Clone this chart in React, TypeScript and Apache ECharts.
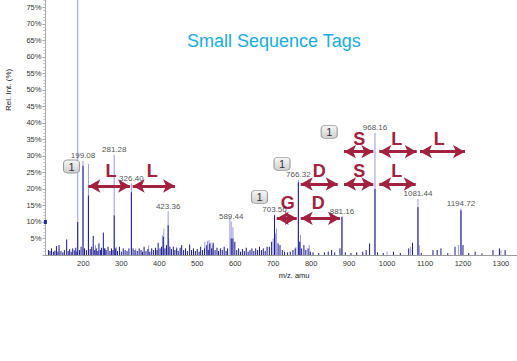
import React, { useEffect, useRef } from "react";
import * as echarts from "echarts";

// ---- labelled peaks ----
const peakMasses = [199.08, 281.28, 326.4, 423.36, 589.44, 703.56, 766.32, 881.16, 968.16, 1081.44, 1194.72];
const peakLabels = ["199.08", "281.28", "326.40", "423.36", "589.44", "703.56", "766.32", "881.16", "968.16", "1081.44", "1194.72"];
const peakIntensity = [28.5, 30.3, 21.7, 13.3, 10.1, 12.3, 22.8, 11.7, 37.0, 17.0, 14.0];
const peakDark = [27.0, 12.0, 19.0, 9.0, 5.0, 12.0, 22.0, 11.5, 20.0, 14.5, 13.5];

// ---- unlabelled main peaks ----
const extraMasses = [185.1, 213.3];
const extraIntensity = [100, 27.6];
const extraDark = [10, 18];

// ---- light (centroid) noise sticks ----
const lightMasses = [232, 258, 287, 338, 372, 408, 412, 425, 445, 520, 527, 531, 536, 541, 586, 594, 700, 706, 709, 760, 772, 795, 1000, 1062, 1085, 1188, 1300];
const lightIntensity = [3.0, 2.0, 2.5, 2.0, 3.0, 6.0, 8.0, 5.0, 2.5, 4.0, 4.3, 4.5, 3.8, 3.0, 11.5, 8.4, 5.0, 6.5, 8.0, 2.5, 6.0, 3.0, 1.0, 2.5, 3.0, 3.0, 1.5];

// ---- dark (profile) noise sticks ----
const noiseMasses = [108, 112, 116, 121, 125, 129, 133, 136, 141, 146, 150, 156, 160, 164, 168, 172, 176, 180, 183, 190, 194, 203, 208, 218, 222, 226, 230, 234, 238, 241, 245, 248, 252.6, 256, 260, 265, 270, 274, 278, 285, 290, 295, 300, 305, 310, 315, 320, 331, 336, 342, 347, 352, 356, 360, 365, 370, 375, 380, 385, 390, 394, 397, 402, 406, 410.6, 415, 419, 428, 432, 437, 441, 446, 450, 455, 459, 464, 469, 474, 480, 485, 490, 495, 500, 505, 509, 514, 519, 525, 529, 533, 538, 542, 547, 552, 556, 561, 566, 571, 576, 580, 594, 599, 604, 609, 614, 619, 624, 629, 634, 639, 644, 649, 654, 659, 664, 669, 674, 679, 684, 690, 696, 713, 718, 724, 730, 738, 745, 752, 758, 770, 775, 781, 786, 792, 798, 805, 820, 835, 845, 854, 862, 876, 890, 905, 920, 936, 945, 954, 975, 990, 1017, 1035, 1057, 1067, 1090, 1121, 1132, 1142, 1160, 1179, 1200, 1215, 1232, 1250, 1279, 1296, 1311];
const noiseIntensity = [1.5, 1.2, 2.0, 1.0, 1.3, 2.7, 1.0, 3.0, 1.2, 0.8, 1.5, 4.7, 1.2, 1.8, 1.0, 2.0, 1.4, 2.2, 1.0, 1.5, 2.5, 2.0, 1.5, 1.8, 2.5, 5.8, 1.5, 2.0, 1.2, 3.5, 1.5, 2.2, 6.8, 2.0, 1.5, 2.5, 1.2, 2.0, 1.5, 2.0, 1.2, 2.5, 1.0, 2.0, 1.5, 1.2, 2.0, 2.0, 1.5, 1.2, 2.0, 1.5, 1.0, 2.5, 1.2, 1.8, 1.0, 2.0, 1.5, 2.2, 1.5, 3.7, 2.0, 2.5, 5.5, 2.0, 3.0, 2.5, 1.8, 2.5, 1.5, 2.0, 1.2, 2.2, 3.0, 1.5, 2.0, 1.2, 3.2, 1.5, 2.0, 1.2, 1.8, 1.0, 2.5, 1.5, 2.0, 3.0, 1.5, 3.5, 2.0, 3.7, 1.5, 2.2, 1.2, 2.0, 1.5, 2.5, 1.2, 2.0, 5.0, 4.0, 1.5, 2.0, 1.0, 1.8, 1.2, 2.2, 1.0, 1.5, 2.0, 1.2, 2.0, 1.5, 2.5, 1.5, 2.0, 1.2, 2.5, 2.5, 4.0, 3.5, 3.0, 1.5, 1.0, 0.8, 1.0, 1.5, 2.0, 4.0, 2.0, 3.0, 1.5, 2.0, 1.0, 0.8, 0.6, 0.8, 1.0, 1.5, 0.8, 2.0, 0.8, 0.6, 0.8, 1.0, 1.5, 3.5, 0.8, 0.6, 1.0, 0.6, 2.0, 3.7, 0.6, 1.5, 1.5, 2.0, 0.6, 2.5, 3.0, 0.6, 1.0, 0.5, 1.5, 2.0, 1.5];

// ---- annotations (data units: m/z, %) ----
const tagBoxMass = [168.8, 723.3, 847.6, 664.0];
const tagBoxPct = [26.8, 27.6, 37.3, 17.6];
const tagBoxText = ["1", "1", "1", "1"];

const letters = ["L", "L", "G", "D", "D", "S", "L", "S", "L", "L"];
const letterMass = [272.8, 381.6, 738.3, 818.9, 821.5, 927.0, 1025.5, 927.0, 1025.5, 1137.7];
const letterPct = [25.4, 25.4, 15.8, 15.8, 25.4, 25.4, 25.4, 35.0, 35.0, 35.1];

const arrowStart = [213.3, 330.0, 709.4, 772.6, 772.6, 886.6, 979.6, 886.6, 979.6, 1086.8];
const arrowEnd = [322.8, 441.5, 762.0, 876.0, 870.0, 963.8, 1075.5, 963.8, 1078.2, 1205.3];
const arrowPct = [20.9, 20.9, 11.1, 11.1, 21.5, 21.5, 21.5, 31.3, 31.3, 31.3];

const FONT = "Liberation Sans, Arial, sans-serif";
const LIGHT = "#9a9ae0";
const DARK = "#161690";
const RED = "#a1213f";

function stickSeries(name: string, masses: number[], values: number[], color: string, z: number) {
  return {
    name,
    type: "custom",
    clip: true,
    z,
    silent: true,
    data: masses.map((m, i) => [m, values[i]]),
    renderItem: (_params: any, api: any) => {
      const x = api.value(0);
      const y = api.value(1);
      const p0 = api.coord([x, 0]);
      const p1 = api.coord([x, y]);
      return {
        type: "line",
        shape: { x1: p0[0], y1: p0[1], x2: p1[0], y2: p1[1] },
        style: { stroke: color, lineWidth: 1 },
      };
    },
  };
}

export default function App() {
  const ref = useRef<HTMLDivElement>(null);
  useEffect(() => {
    if (!ref.current) return;
    const chart = echarts.init(ref.current, undefined, { renderer: "svg" });
    const option: any = {
      animation: false,
      backgroundColor: "#ffffff",
      title: {
        text: "Small Sequence Tags",
        left: 187,
        top: 32,
        padding: 0,
        textStyle: { color: "#17ace0", fontSize: 18, fontWeight: "normal", fontFamily: FONT },
      },
      grid: { left: 45.4, top: -75.2, width: 497.3, height: 330.2, containLabel: false, outerBoundsMode: "none" },
      xAxis: {
        type: "value",
        min: 100,
        max: 1410,
        interval: 100,
        name: "m/z. amu",
        nameLocation: "middle",
        nameGap: 13,
        nameTextStyle: { fontSize: 7.5, color: "#222", fontFamily: FONT },
        axisLine: { show: true, lineStyle: { color: "#9a9a9a" } },
        axisTick: { show: false },
        splitLine: { show: false },
        axisLabel: {
          fontSize: 7.5,
          color: "#333",
          fontFamily: FONT,
          margin: 4,
          showMinLabel: false,
          showMaxLabel: false,
          formatter: (v: number) => (v > 1300 ? "" : String(v)),
        },
      },
      yAxis: {
        type: "value",
        min: 0,
        max: 100,
        interval: 5,
        name: "Rel. Int. (%)",
        nameLocation: "middle",
        nameRotate: 90,
        nameGap: 33,
        nameTextStyle: { fontSize: 8, color: "#222", fontFamily: FONT },
        axisLine: { show: true, lineStyle: { color: "#a8a8a8" } },
        axisTick: { show: true, length: 3, lineStyle: { color: "#a8a8a8" } },
        minorTick: { show: true, splitNumber: 5, length: 2, lineStyle: { color: "#c0c0c0" } },
        splitLine: { show: false },
        axisLabel: {
          fontSize: 7.5,
          color: "#333",
          fontFamily: FONT,
          margin: 4,
          showMinLabel: false,
          formatter: (v: number) => (v > 75 ? "" : v + "%"),
        },
      },
      series: [
        stickSeries("lightNoise", lightMasses, lightIntensity, LIGHT, 2),
        stickSeries("lightPeaks", [...extraMasses, ...peakMasses], [...extraIntensity, ...peakIntensity], LIGHT, 2),
        stickSeries("darkNoise", noiseMasses, noiseIntensity, DARK, 3),
        stickSeries("darkPeaks", [...extraMasses, ...peakMasses], [...extraDark, ...peakDark], DARK, 3),
        {
          name: "labels",
          type: "scatter",
          z: 5,
          symbolSize: 0,
          silent: true,
          data: peakMasses.map((m, i) => [m, peakIntensity[i]]),
          itemStyle: { color: "transparent" },
          label: {
            show: true,
            position: "top",
            distance: 1,
            fontSize: 8,
            color: "#1a1a1a",
            fontFamily: FONT,
            formatter: (p: any) => peakLabels[p.dataIndex],
          },
          markLine: {
            silent: true,
            symbol: ["arrow", "arrow"],
            symbolSize: [10, 12],
            label: { show: false },
            lineStyle: { color: RED, width: 3, type: "solid" },
            data: arrowStart.map((s, i) => [
              { coord: [s, arrowPct[i]] },
              { coord: [arrowEnd[i], arrowPct[i]] },
            ]),
          },
          markPoint: {
            silent: true,
            data: [
              ...letters.map((t, i) => ({
                coord: [letterMass[i], letterPct[i]],
                symbol: "rect",
                symbolSize: 0,
                itemStyle: { color: "transparent" },
                label: {
                  show: true,
                  position: "inside",
                  formatter: t,
                  fontSize: 18,
                  fontWeight: "bold",
                  fontFamily: FONT,
                  color: RED,
                  textShadowColor: "#f29a2e",
                  textShadowOffsetX: -1,
                  textShadowOffsetY: 0,
                  textShadowBlur: 0,
                },
              })),
              ...tagBoxText.map((t, i) => ({
                coord: [tagBoxMass[i], tagBoxPct[i]],
                symbol: "roundRect",
                symbolSize: [16, 13],
                itemStyle: {
                  color: new echarts.graphic.LinearGradient(0, 0, 0, 1, [
                    { offset: 0, color: "#f7f7f7" },
                    { offset: 1, color: "#cfcfcf" },
                  ]),
                  borderColor: "#9a9a9a",
                  borderWidth: 1,
                },
                label: {
                  show: true,
                  position: "inside",
                  formatter: t,
                  fontSize: 11,
                  fontFamily: FONT,
                  color: "#333",
                },
              })),
              {
                coord: [100, 10],
                symbol: "rect",
                symbolSize: [3, 4],
                itemStyle: { color: "#1a2a9a" },
                label: { show: false },
              },
            ],
          },
        },
      ],
    };
    chart.setOption(option);
    return () => chart.dispose();
  }, []);
  return (
    <div
      ref={ref}
      style={{ position: "fixed", left: 0, top: 0, width: 517, height: 361, background: "#fff" }}
    />
  );
}
